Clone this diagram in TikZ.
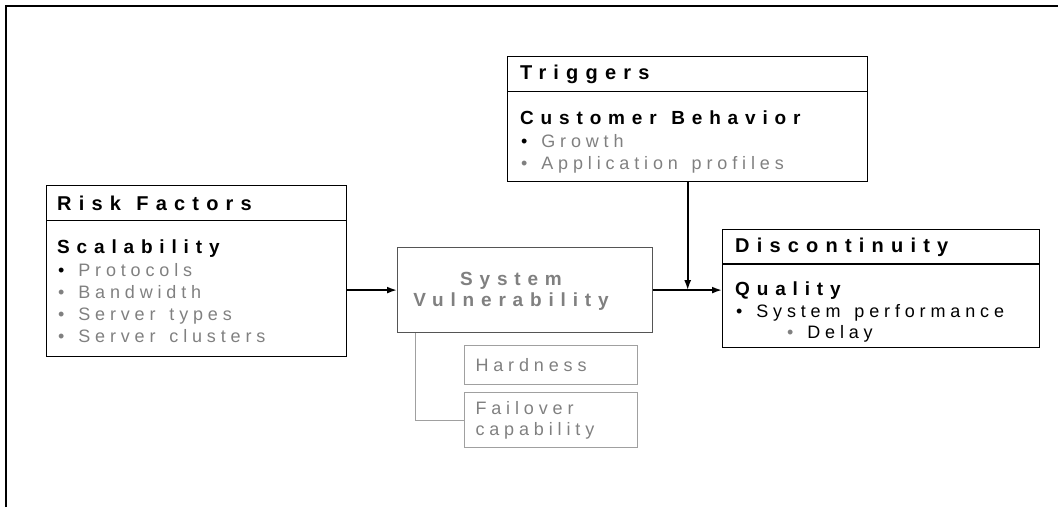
\documentclass[tikz,border=0pt]{standalone}
\usepackage{fontspec}
\setmainfont{Liberation Sans}
\newfontfamily\boldsp[LetterSpace=36, WordSpace=1.2]{Liberation Sans}
\newfontfamily\itemsp[LetterSpace=27, WordSpace=1.4]{Liberation Sans}
\usetikzlibrary{arrows.meta}
\definecolor{greytext}{HTML}{808080}
\definecolor{darkline}{HTML}{555555}
\definecolor{lightline}{HTML}{A0A0A0}

\begin{document}
\begin{tikzpicture}[x=1pt, y=-1pt,
    head/.style = {draw, line width=1pt, anchor=north west, minimum width=#1, minimum height=35pt, inner sep=0pt},
    title/.style = {anchor=west, inner sep=0pt, font=\boldsp\bfseries\fontsize{20}{24}\selectfont},
    panel/.style = {draw, line width=1.4pt, anchor=north west, inner sep=0pt},
    sub/.style = {anchor=base west, inner sep=0pt, font=\boldsp\bfseries\fontsize{19}{22}\selectfont},
    item/.style = {anchor=base west, inner sep=0pt, text=greytext, font=\itemsp\fontsize{18}{21}\selectfont},
    sidebox/.style = {draw=lightline, line width=1pt, anchor=north west, text width=151pt, inner xsep=11pt, align=left, text=greytext, font=\itemsp\fontsize{18}{21}\selectfont},
    arrow/.style = {-{Latex[length=10pt, width=7pt]}, line width=1.8pt}]
    \useasboundingbox (0,0) rectangle (1058,507);
    \draw[line width=2.2pt] (6,507) -- (6,6) -- (1058,6);

    % Risk factors
    \node[head=300pt] (riskhead) at (46,185) {};
    \node[title] (risktitle) at ([xshift=11pt]riskhead.west) {Risk Factors};
    \node[panel, minimum width=300pt, minimum height=136pt] (riskbody) at (46,220) {};
    \node[sub]  (scal)     at (57,253) {Scalability};
    \node[item] (proto)    at (58,276) {\textcolor{black}{•} Protocols};
    \node[item] (band)     at (58,298) {• Bandwidth};
    \node[item] (stypes)   at (58,320) {• Server types};
    \node[item] (sclust)   at (58,342) {• Server clusters};

    % Triggers
    \node[head=360pt] (trighead) at (507,56) {};
    \node[title] (trigtitle) at ([xshift=13pt]trighead.west) {Triggers};
    \node[panel, minimum width=360pt, minimum height=90pt] (trigbody) at (507,91) {};
    \node[sub]  (custbeh)  at (520,124) {Customer Behavior};
    \node[item] (growth)   at (521,147) {\textcolor{black}{•} Growth};
    \node[item] (appprof)  at (521,169) {• Application profiles};

    % Discontinuity
    \node[head=317pt] (dischead) at (722,229) {};
    \node[title] (disctitle) at ([xshift=13pt]dischead.west) {Discontinuity};
    \node[panel, minimum width=317pt, minimum height=84pt] (discbody) at (722,263) {};
    \node[sub]  (quality)  at (735,295) {Quality};
    \node[item, text=black] (sysperf) at (736,317) {• System performance};
    \node[item, text=black] (delay)   at (787,338) {\textcolor{greytext}{•} Delay};

    % System vulnerability
    \node[panel, draw=darkline, line width=1.2pt, minimum width=255pt, minimum height=85pt] (sysvul) at (397,247) {};
    \node[inner sep=0pt, align=center, text=greytext, font=\boldsp\bfseries\fontsize{19}{21}\selectfont] (systext) at (511,291) {System\\Vulnerability};
    \node[sidebox, minimum height=39pt] (hard) at (464,345) {Hardness};
    \node[sidebox, minimum height=55pt] (fail) at (464,392) {Failover\\capability};

    % Connections
    \draw[arrow] (sysvul.west -| riskbody.east) -- (sysvul.west);
    \draw[arrow] (sysvul.east) -- (sysvul.east -| discbody.west);
    \draw[arrow] (trigbody.south) -- (trigbody.south |- sysvul.east);
    \draw[lightline, line width=1pt] ([xshift=18pt]sysvul.south west) |- (fail.west);
\end{tikzpicture}
\end{document}
